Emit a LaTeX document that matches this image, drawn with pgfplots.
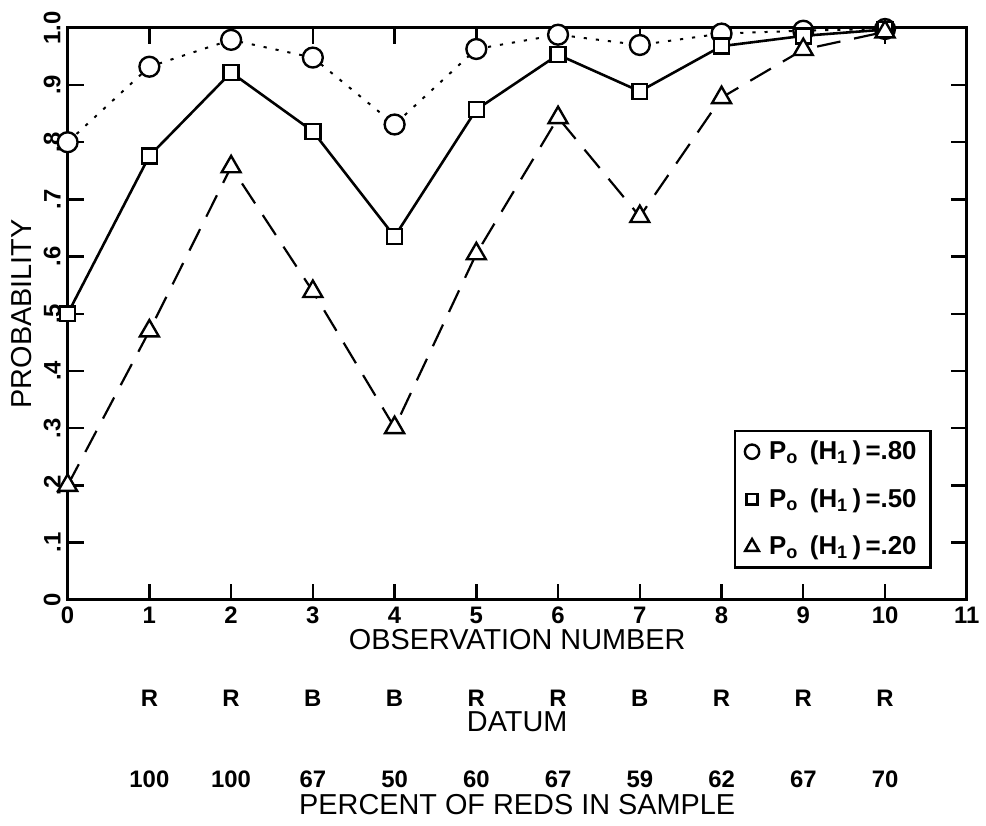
\documentclass[border=0pt]{standalone}
\usepackage{fontspec}
\setmainfont{Liberation Sans}
\usepackage{pgfplots}
\pgfplotsset{compat=1.18}

\begin{document}
\begin{tikzpicture}[
    rowtxt/.style={font=\bfseries\fontsize{12}{14}\selectfont, inner sep=0pt},
    labtxt/.style={font=\fontsize{14.5}{17}\selectfont, inner sep=0pt},
]
\begin{axis}[
    name=ax,
    scale only axis,
    clip=false,
    width=452pt, height=287.5pt,
    xmin=0, xmax=11, ymin=0, ymax=1,
    xtick={0,1,2,3,4,5,6,7,8,9,10,11},
    ytick={0,0.1,0.2,0.3,0.4,0.5,0.6,0.7,0.8,0.9,1},
    yticklabels={0,.1,.2,.3,.4,.5,.6,.7,.8,.9,1.0},
    tick align=inside,
    major tick length=8pt,
    every tick/.style={black, line width=1.2pt},
    axis line style={line width=1.4pt},
    tick label style={font=\bfseries\fontsize{12}{14}\selectfont,
        /pgf/number format/assume math mode=true},
    yticklabel style={rotate=90, anchor=south},
    xticklabel style={anchor=north},
    xlabel={OBSERVATION NUMBER},
    ylabel={PROBABILITY},
    label style={font=\fontsize{14.5}{17}\selectfont},
    xlabel style={at={(axis description cs:0.5,0)}, anchor=center, yshift=-20pt},
    ylabel style={at={(axis description cs:-0.0509,0.5)}, anchor=center},
    legend style={at={(0.961,0.054)}, anchor=south east, draw=black,
        line width=1.2pt, font=\bfseries\fontsize{13}{15}\selectfont,
        row sep=9pt, column sep=3pt, inner xsep=5pt, inner ysep=3pt},
    legend cell align=left,
    legend image code/.code={\draw[#1, every mark/.append style={scale=0.72}]
        plot[only marks] coordinates {(0.12cm,0cm)};},
]

% P0(H1) = .80
\addplot[black, line width=1pt, dash pattern=on 1.6pt off 4.5pt,
    mark=*, mark size=5pt, mark options={solid, fill=white, line width=1.2pt}]
    coordinates {
    (0,0.800)(1,0.932)(2,0.979)(3,0.948)(4,0.831)(5,0.963)
    (6,0.988)(7,0.970)(8,0.990)(9,0.995)(10,0.998)
    };
\addlegendentry{P\textsubscript{o} \,(H\textsubscript{1}\,)\,=.80}

% P0(H1) = .50
\addplot[black, line width=1.3pt, solid,
    mark=square*, mark size=3.75pt, mark options={solid, fill=white, line width=1.2pt}]
    coordinates {
    (0,0.500)(1,0.776)(2,0.922)(3,0.819)(4,0.635)(5,0.857)
    (6,0.953)(7,0.889)(8,0.968)(9,0.986)(10,0.997)
    };
\addlegendentry{P\textsubscript{o} \,(H\textsubscript{1}\,)\,=.50}

% P0(H1) = .20
\addplot[black, line width=1.1pt, dash pattern=on 12pt off 7pt,
    mark=triangle*, mark size=5.5pt, mark options={solid, fill=white, line width=1.2pt}]
    coordinates {
    (0,0.200)(1,0.470)(2,0.757)(3,0.539)(4,0.301)(5,0.605)
    (6,0.843)(7,0.670)(8,0.878)(9,0.962)(10,0.993)
    };
\addlegendentry{P\textsubscript{o} \,(H\textsubscript{1}\,)\,=.20}

% datum row
\node[rowtxt, yshift=-49.5pt] at (axis cs:1,0) {R};
\node[rowtxt, yshift=-49.5pt] at (axis cs:2,0) {R};
\node[rowtxt, yshift=-49.5pt] at (axis cs:3,0) {B};
\node[rowtxt, yshift=-49.5pt] at (axis cs:4,0) {B};
\node[rowtxt, yshift=-49.5pt] at (axis cs:5,0) {R};
\node[rowtxt, yshift=-49.5pt] at (axis cs:6,0) {R};
\node[rowtxt, yshift=-49.5pt] at (axis cs:7,0) {B};
\node[rowtxt, yshift=-49.5pt] at (axis cs:8,0) {R};
\node[rowtxt, yshift=-49.5pt] at (axis cs:9,0) {R};
\node[rowtxt, yshift=-49.5pt] at (axis cs:10,0) {R};
\node[labtxt, yshift=-61.5pt] at (axis cs:5.5,0) {DATUM};

% percent row
\node[rowtxt, yshift=-90pt] at (axis cs:1,0) {100};
\node[rowtxt, yshift=-90pt] at (axis cs:2,0) {100};
\node[rowtxt, yshift=-90pt] at (axis cs:3,0) {67};
\node[rowtxt, yshift=-90pt] at (axis cs:4,0) {50};
\node[rowtxt, yshift=-90pt] at (axis cs:5,0) {60};
\node[rowtxt, yshift=-90pt] at (axis cs:6,0) {67};
\node[rowtxt, yshift=-90pt] at (axis cs:7,0) {59};
\node[rowtxt, yshift=-90pt] at (axis cs:8,0) {62};
\node[rowtxt, yshift=-90pt] at (axis cs:9,0) {67};
\node[rowtxt, yshift=-90pt] at (axis cs:10,0) {70};
\node[labtxt, yshift=-103pt] at (axis cs:5.5,0) {PERCENT OF REDS IN SAMPLE};

\end{axis}
\path ([xshift=-34pt,yshift=-113.5pt]ax.south west) rectangle ([xshift=7pt,yshift=14pt]ax.north east);
\end{tikzpicture}
\end{document}
